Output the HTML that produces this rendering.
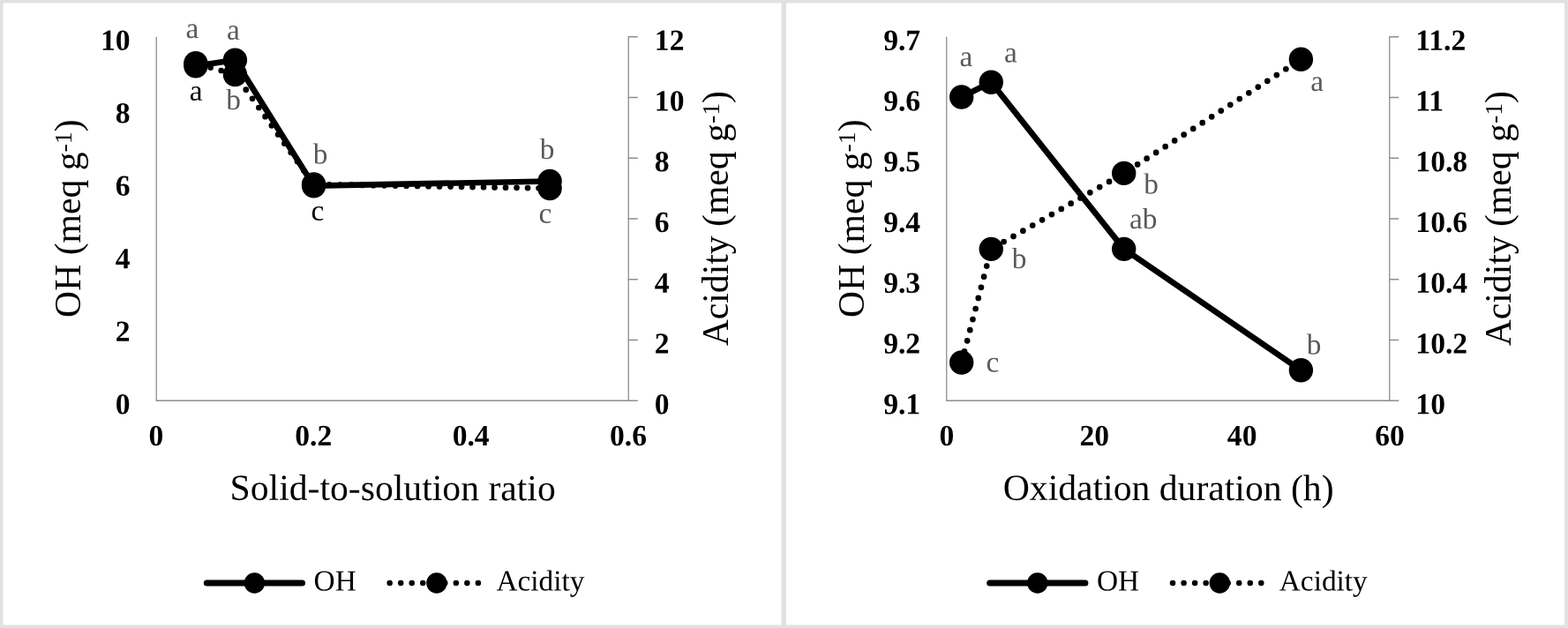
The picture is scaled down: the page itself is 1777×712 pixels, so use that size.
<!DOCTYPE html>
<html lang="en">
<head>
<meta charset="utf-8">
<title>OH and acidity charts</title>
<style>
html,body{margin:0;padding:0;background:#e1e1e1;}
body{width:1777px;height:712px;overflow:hidden;}
svg{display:block;font-family:"Liberation Serif",serif;}
</style>
</head>
<body>
<svg width="1777" height="712" viewBox="0 0 1777 712">
<rect x="0" y="0" width="1777" height="712" fill="#e1e1e1"/>
<rect x="0" y="0" width="1" height="1" fill="#e9e9e9"/>
<rect x="1776" y="711" width="1" height="1" fill="#f3f3f3"/>
<g>
<rect x="3.5" y="3.5" width="882" height="705" fill="#fff"/>
<g fill="none" stroke="#8e8e8e" stroke-width="1.3">
<path d="M177.25 41.75V454.25H712.25V41.75"/>
<path d="M711.75 41.75h11M711.75 110.5h11M711.75 179.25h11M711.75 248h11M711.75 316.75h11M711.75 385.5h11M711.75 454.25h11"/>
</g>
<g font-weight="bold" font-size="33.6" fill="#000">
<text transform="translate(147.65 56.7) rotate(0.1)" text-anchor="end">10</text>
<text transform="translate(147.65 139.2) rotate(0.1)" text-anchor="end">8</text>
<text transform="translate(147.65 221.7) rotate(0.1)" text-anchor="end">6</text>
<text transform="translate(147.65 304.2) rotate(0.1)" text-anchor="end">4</text>
<text transform="translate(147.65 386.7) rotate(0.1)" text-anchor="end">2</text>
<text transform="translate(147.65 469.2) rotate(0.1)" text-anchor="end">0</text>
<text transform="translate(741.85 56.7) rotate(0.1)">12</text>
<text transform="translate(741.85 125.45) rotate(0.1)">10</text>
<text transform="translate(741.85 194.2) rotate(0.1)">8</text>
<text transform="translate(741.85 262.95) rotate(0.1)">6</text>
<text transform="translate(741.85 331.7) rotate(0.1)">4</text>
<text transform="translate(741.85 400.45) rotate(0.1)">2</text>
<text transform="translate(741.85 469.2) rotate(0.1)">0</text>
<text transform="translate(176.95 505.0) rotate(0.1)" text-anchor="middle">0</text>
<text transform="translate(355.28 505.0) rotate(0.1)" text-anchor="middle">0.2</text>
<text transform="translate(533.62 505.0) rotate(0.1)" text-anchor="middle">0.4</text>
<text transform="translate(711.95 505.0) rotate(0.1)" text-anchor="middle">0.6</text>
</g>
<g font-size="41.67" fill="#000" text-anchor="middle">
<text transform="translate(445.15 567) rotate(0.1)">Solid-to-solution ratio</text>
<text transform="translate(90.9 247.7) rotate(-90)">OH (meq g<tspan font-size="27.8" dy="-10.1">-1</tspan><tspan dy="10.1">)</tspan></text>
<text transform="translate(825 247.7) rotate(-90)">Acidity (meq g<tspan font-size="27.8" dy="-10.1">-1</tspan><tspan dy="10.1">)</tspan></text>
</g>
<g fill="none" stroke="#000" stroke-width="6.7" stroke-linecap="round" stroke-dasharray="0 12.5">
<path d="M221.83 71.7L266.42 84.5" stroke-dashoffset="-5"/>
<path d="M266.42 84.5L355.58 209" stroke-dashoffset="-8.65"/>
<path d="M355.58 209L623.08 213.5" stroke-dashoffset="-5"/>
</g>
<polyline points="221.83,74.8 266.42,68.1 355.58,210.7 623.08,205.5" fill="none" stroke="#000" stroke-width="6.7" stroke-linecap="round" stroke-linejoin="round"/>
<g fill="#000">
<circle cx="221.83" cy="71.7" r="13.7"/>
<circle cx="266.42" cy="84.5" r="13.7"/>
<circle cx="355.58" cy="209" r="13.7"/>
<circle cx="623.08" cy="213.5" r="13.7"/>
<circle cx="221.83" cy="74.8" r="13.7"/>
<circle cx="266.42" cy="68.1" r="13.7"/>
<circle cx="355.58" cy="210.7" r="13.7"/>
<circle cx="623.08" cy="205.5" r="13.7"/>
</g>
<g font-size="33.33" text-anchor="middle">
<text transform="translate(217.9 43) rotate(0.1)" fill="#595959">a</text>
<text transform="translate(264.5 44.8) rotate(0.1)" fill="#595959">a</text>
<text transform="translate(222.2 113.8) rotate(0.1)" fill="#000">a</text>
<text transform="translate(264.5 124) rotate(0.1)" fill="#595959">b</text>
<text transform="translate(363 185.4) rotate(0.1)" fill="#595959">b</text>
<text transform="translate(360 249.7) rotate(0.1)" fill="#000">c</text>
<text transform="translate(620.1 180) rotate(0.1)" fill="#595959">b</text>
<text transform="translate(617.9 252.7) rotate(0.1)" fill="#595959">c</text>
</g>
<g stroke="#000" stroke-width="7" stroke-linecap="round" fill="none">
<path d="M234.3 660.9H342.5"/>
<path d="M441.65 660.9H545" stroke-width="6.5" stroke-dasharray="0 12.53"/>
</g>
<circle cx="288.4" cy="661" r="11.7" fill="#000"/>
<circle cx="494.9" cy="661" r="11.7" fill="#000"/>
<g font-size="33.33" fill="#000">
<text transform="translate(355.6 669.4) rotate(0.1)">OH</text>
<text transform="translate(562.4 669.4) rotate(0.1)">Acidity</text>
</g>
</g>
<g>
<rect x="891" y="3.5" width="882" height="705" fill="#fff"/>
<g fill="none" stroke="#8e8e8e" stroke-width="1.3">
<path d="M1072.75 41.75V454.25H1574.75V41.75"/>
<path d="M1574.25 41.75h11M1574.25 110.5h11M1574.25 179.25h11M1574.25 248h11M1574.25 316.75h11M1574.25 385.5h11M1574.25 454.25h11"/>
</g>
<g font-weight="bold" font-size="33.6" fill="#000">
<text transform="translate(1043.15 56.7) rotate(0.1)" text-anchor="end">9.7</text>
<text transform="translate(1043.15 125.45) rotate(0.1)" text-anchor="end">9.6</text>
<text transform="translate(1043.15 194.2) rotate(0.1)" text-anchor="end">9.5</text>
<text transform="translate(1043.15 262.95) rotate(0.1)" text-anchor="end">9.4</text>
<text transform="translate(1043.15 331.7) rotate(0.1)" text-anchor="end">9.3</text>
<text transform="translate(1043.15 400.45) rotate(0.1)" text-anchor="end">9.2</text>
<text transform="translate(1043.15 469.2) rotate(0.1)" text-anchor="end">9.1</text>
<text transform="translate(1604.35 56.7) rotate(0.1)">11.2</text>
<text transform="translate(1604.35 125.45) rotate(0.1)">11</text>
<text transform="translate(1604.35 194.2) rotate(0.1)">10.8</text>
<text transform="translate(1604.35 262.95) rotate(0.1)">10.6</text>
<text transform="translate(1604.35 331.7) rotate(0.1)">10.4</text>
<text transform="translate(1604.35 400.45) rotate(0.1)">10.2</text>
<text transform="translate(1604.35 469.2) rotate(0.1)">10</text>
<text transform="translate(1072.95 505.0) rotate(0.1)" text-anchor="middle">0</text>
<text transform="translate(1240.28 505.0) rotate(0.1)" text-anchor="middle">20</text>
<text transform="translate(1407.62 505.0) rotate(0.1)" text-anchor="middle">40</text>
<text transform="translate(1574.95 505.0) rotate(0.1)" text-anchor="middle">60</text>
</g>
<g font-size="41.67" fill="#000" text-anchor="middle">
<text transform="translate(1324.15 567) rotate(0.1)">Oxidation duration (h)</text>
<text transform="translate(978.9 247.7) rotate(-90)">OH (meq g<tspan font-size="27.8" dy="-10.1">-1</tspan><tspan dy="10.1">)</tspan></text>
<text transform="translate(1712.3 247.7) rotate(-90)">Acidity (meq g<tspan font-size="27.8" dy="-10.1">-1</tspan><tspan dy="10.1">)</tspan></text>
</g>
<g fill="none" stroke="#000" stroke-width="6.7" stroke-linecap="round" stroke-dasharray="0 12.5">
<path d="M1089.7 411.05L1123.25 282.35" stroke-dashoffset="-0.6"/>
<path d="M1123.25 282.35L1273.7 196.4" stroke-dashoffset="-4.1"/>
<path d="M1273.7 196.4L1474.4 67.3" stroke-dashoffset="-5.85"/>
</g>
<polyline points="1089.7,110.05 1123.25,93.2 1273.7,282.35 1474.4,419.7" fill="none" stroke="#000" stroke-width="6.7" stroke-linecap="round" stroke-linejoin="round"/>
<g fill="#000">
<circle cx="1089.7" cy="411.05" r="13.7"/>
<circle cx="1123.25" cy="282.35" r="13.7"/>
<circle cx="1273.7" cy="196.4" r="13.7"/>
<circle cx="1474.4" cy="67.3" r="13.7"/>
<circle cx="1089.7" cy="110.05" r="13.7"/>
<circle cx="1123.25" cy="93.2" r="13.7"/>
<circle cx="1273.7" cy="282.35" r="13.7"/>
<circle cx="1474.4" cy="419.7" r="13.7"/>
</g>
<g font-size="33.33" text-anchor="middle">
<text transform="translate(1095 75) rotate(0.1)" fill="#595959">a</text>
<text transform="translate(1145.3 70.5) rotate(0.1)" fill="#595959">a</text>
<text transform="translate(1492.6 103) rotate(0.1)" fill="#595959">a</text>
<text transform="translate(1304.6 219.6) rotate(0.1)" fill="#595959">b</text>
<text transform="translate(1295.8 259.1) rotate(0.1)" fill="#595959">ab</text>
<text transform="translate(1155 304) rotate(0.1)" fill="#595959">b</text>
<text transform="translate(1125 421.5) rotate(0.1)" fill="#595959">c</text>
<text transform="translate(1489 401.5) rotate(0.1)" fill="#595959">b</text>
</g>
<g stroke="#000" stroke-width="7" stroke-linecap="round" fill="none">
<path d="M1121.7 660.9H1229.9"/>
<path d="M1329.05 660.9H1432.4" stroke-width="6.5" stroke-dasharray="0 12.53"/>
</g>
<circle cx="1175.8" cy="661" r="11.7" fill="#000"/>
<circle cx="1382.3" cy="661" r="11.7" fill="#000"/>
<g font-size="33.33" fill="#000">
<text transform="translate(1243 669.4) rotate(0.1)">OH</text>
<text transform="translate(1449.8 669.4) rotate(0.1)">Acidity</text>
</g>
</g>
</svg>
</body>
</html>
